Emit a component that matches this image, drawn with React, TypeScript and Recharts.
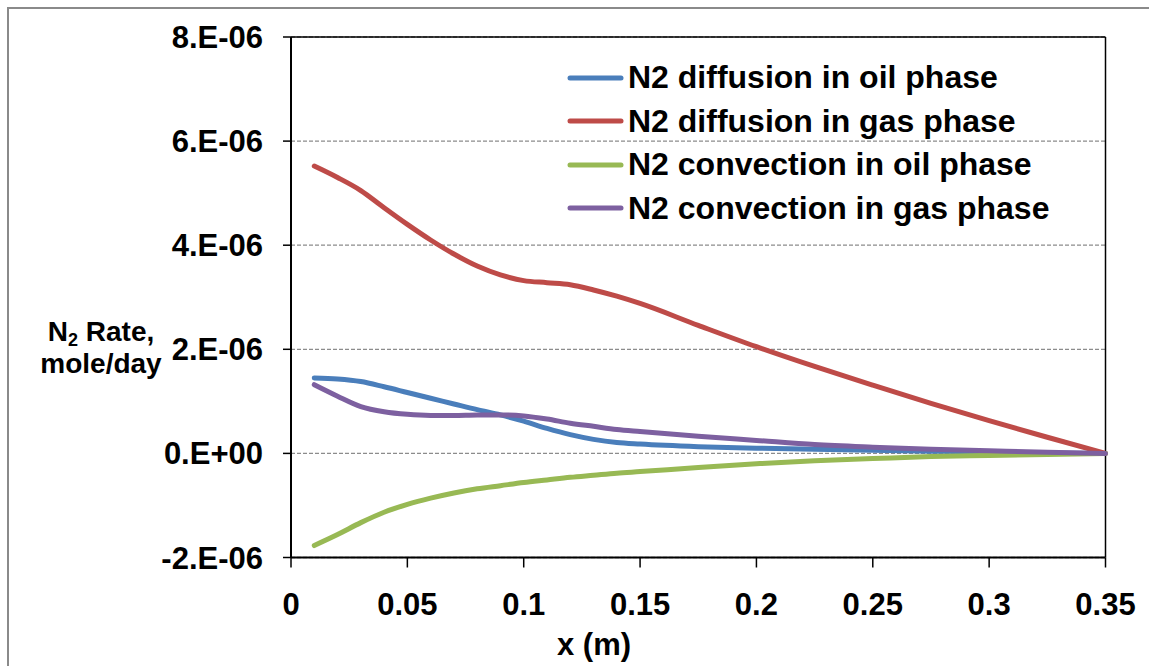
import {
  LineChart,
  Line,
  XAxis,
  YAxis,
  CartesianGrid,
  ReferenceLine,
  Legend,
} from 'recharts';

// Distance along the core (m)
const xPositions = [
  0.01, 0.02, 0.03, 0.04, 0.05, 0.06, 0.07, 0.08, 0.09, 0.1, 0.11, 0.12, 0.13,
  0.14, 0.15, 0.175, 0.2, 0.225, 0.25, 0.275, 0.3, 0.325, 0.35,
];

// N2 rates, in units of 1e-6 mole/day
const diffusionOil = [
  1.45, 1.43, 1.38, 1.28, 1.17, 1.06, 0.95, 0.84, 0.74, 0.62, 0.48, 0.36, 0.27,
  0.21, 0.18, 0.13, 0.1, 0.08, 0.06, 0.04, 0.03, 0.01, 0,
];
const diffusionGas = [
  5.52, 5.3, 5.05, 4.72, 4.4, 4.1, 3.83, 3.6, 3.43, 3.32, 3.28, 3.24, 3.14,
  3.02, 2.88, 2.46, 2.05, 1.67, 1.31, 0.96, 0.63, 0.31, 0,
];
const convectionOil = [
  -1.77, -1.56, -1.33, -1.13, -0.98, -0.86, -0.76, -0.68, -0.62, -0.56, -0.51,
  -0.46, -0.42, -0.38, -0.35, -0.27, -0.2, -0.14, -0.1, -0.06, -0.04, -0.02, 0,
];
const convectionGas = [
  1.32, 1.1, 0.9, 0.8, 0.75, 0.73, 0.73, 0.74, 0.74, 0.72, 0.66, 0.58, 0.52,
  0.46, 0.42, 0.33, 0.25, 0.17, 0.12, 0.08, 0.05, 0.02, 0,
];

const xTicks = [0, 0.05, 0.1, 0.15, 0.2, 0.25, 0.3, 0.35];
const xTickLabels = ['0', '0.05', '0.1', '0.15', '0.2', '0.25', '0.3', '0.35'];
const yTicks = [-2, 0, 2, 4, 6, 8];
const yTickLabels = ['-2.E-06', '0.E+00', '2.E-06', '4.E-06', '6.E-06', '8.E-06'];

const series = [
  { key: 'diffOil', name: 'N2 diffusion in oil phase', color: '#4a7ebb', values: diffusionOil },
  { key: 'diffGas', name: 'N2 diffusion in gas phase', color: '#be4b48', values: diffusionGas },
  { key: 'convOil', name: 'N2 convection in oil phase', color: '#98b954', values: convectionOil },
  { key: 'convGas', name: 'N2 convection in gas phase', color: '#7d60a0', values: convectionGas },
];

const chartData = xPositions.map((x, i) => {
  const row: Record<string, number> = { x };
  series.forEach((s) => {
    row[s.key] = s.values[i];
  });
  return row;
});

const FONT = '"Liberation Sans", Arial, sans-serif';
const tickStyle = { fontFamily: FONT, fontSize: 31, fontWeight: 'bold', fill: '#000' };

function YTitle({ viewBox }: any) {
  const cx = viewBox.x - 70;
  return (
    <text textAnchor="middle" fontFamily={FONT} fontSize={28} fontWeight="bold" fill="#000">
      <tspan x={cx} y={viewBox.y + 304}>
        N<tspan fontSize={18} dy={5}>2</tspan>
        <tspan dy={-5}> Rate,</tspan>
      </tspan>
      <tspan x={cx} y={viewBox.y + 336}>mole/day</tspan>
    </text>
  );
}

function XTitle({ viewBox }: any) {
  return (
    <text
      x={viewBox.x + 303}
      y={viewBox.y + 97}
      textAnchor="middle"
      fontFamily={FONT}
      fontSize={31}
      fontWeight="bold"
      fill="#000"
    >
      x (m)
    </text>
  );
}

function LegendList({ payload }: any) {
  // keep the legend in series order
  const entries = [...(payload || [])].sort(
    (a: any, b: any) =>
      series.findIndex((s) => s.name === a.value) - series.findIndex((s) => s.name === b.value)
  );
  return (
    <div style={{ fontFamily: FONT, fontSize: 32, fontWeight: 'bold', color: '#000' }}>
      {entries.map((entry: any) => (
        <div
          key={entry.value}
          style={{ display: 'flex', alignItems: 'center', height: 43.5, whiteSpace: 'nowrap' }}
        >
          <svg width={60} height={10} style={{ marginRight: 3 }}>
            <line x1={5} y1={5} x2={56} y2={5} stroke={entry.color} strokeWidth={5} strokeLinecap="round" />
          </svg>
          <span>{entry.value}</span>
        </div>
      ))}
    </div>
  );
}

export default function App() {
  return (
    <div
      style={{
        position: 'absolute',
        left: 0,
        top: 0,
        width: 1149,
        height: 666,
        overflow: 'hidden',
        background: '#fff',
      }}
    >
      {/* outer chart frame */}
      <div
        style={{
          position: 'absolute',
          left: 7,
          top: 7,
          width: 1200,
          height: 700,
          border: '2px solid #8a8a8a',
        }}
      />
      <LineChart
        width={1149}
        height={666}
        data={chartData}
        margin={{ top: 37, right: 43.5, left: 171, bottom: 58.5 }}
      >
        <CartesianGrid
          vertical={false}
          stroke="#8c8c8c"
          strokeWidth={1.3}
          strokeDasharray="4 2"
        />
        <XAxis
          dataKey="x"
          type="number"
          domain={[0, 0.35]}
          ticks={xTicks}
          tickFormatter={(v: number) => xTickLabels[xTicks.indexOf(v)] ?? String(v)}
          height={50}
          tick={tickStyle}
          tickSize={10}
          tickMargin={25}
          axisLine={{ stroke: '#000', strokeWidth: 2 }}
          tickLine={{ stroke: '#000', strokeWidth: 1.5 }}
          interval={0}
          label={{ content: XTitle }}
        />
        <YAxis
          type="number"
          domain={[-2, 8]}
          ticks={yTicks}
          tickFormatter={(v: number) => yTickLabels[yTicks.indexOf(v)] ?? String(v)}
          width={120}
          tick={tickStyle}
          tickSize={8}
          tickMargin={20}
          axisLine={{ stroke: '#000', strokeWidth: 2 }}
          tickLine={{ stroke: '#000', strokeWidth: 1.5 }}
          interval={0}
          label={{ content: YTitle }}
        />
        {/* plot area border on top and right */}
        <ReferenceLine y={8} stroke="#000" strokeWidth={1.5} />
        <ReferenceLine x={0.35} stroke="#000" strokeWidth={1.5} />
        <Legend
          layout="vertical"
          align="center"
          verticalAlign="middle"
          content={LegendList}
          wrapperStyle={{ left: 565, top: 56, width: 'auto', height: 'auto' }}
        />
        {series.map((s) => (
          <Line
            key={s.key}
            dataKey={s.key}
            name={s.name}
            type="monotone"
            stroke={s.color}
            strokeWidth={5}
            strokeLinecap="round"
            dot={false}
            activeDot={false}
            isAnimationActive={false}
          />
        ))}
      </LineChart>
    </div>
  );
}
